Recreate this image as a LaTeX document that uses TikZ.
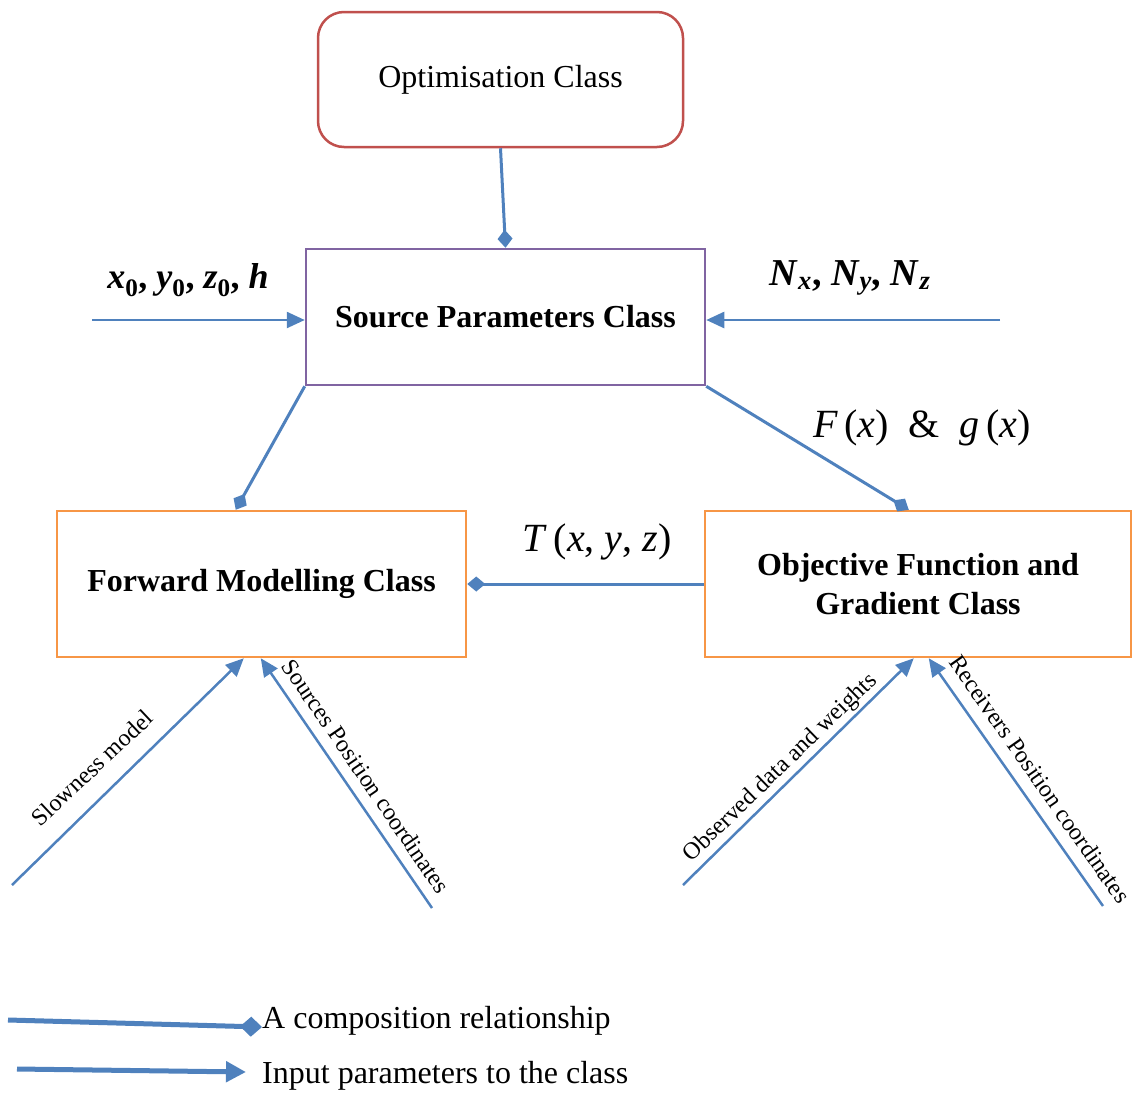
\documentclass[tikz,border=0pt]{standalone}
\usepackage{fontspec}
\setmainfont{Liberation Serif}
\usetikzlibrary{arrows.meta,positioning}

\definecolor{linkblue}{HTML}{4F81BD}
\definecolor{optred}{HTML}{C0504D}
\definecolor{srcpurple}{HTML}{8064A2}
\definecolor{clsorange}{HTML}{F79646}

\newcommand{\vsub}[2]{\textit{#1}\textsubscript{#2}}

\tikzset{
  classbox/.style={draw, line width=2.5pt, align=center,
    font=\fontsize{32}{39}\selectfont\bfseries},
  compose/.style={linkblue, line width=3pt, -{Diamond[length=18pt,width=15pt]}},
  inparam/.style={linkblue, line width=2.5pt, -{Triangle[length=18pt,width=16pt]}},
  lbl/.style={font=\fontsize{24}{28}\selectfont, inner sep=0pt},
  mathlbl/.style={font=\fontsize{36}{42}\selectfont\bfseries, inner sep=0pt},
  keytxt/.style={font=\fontsize{32}{38}\selectfont, inner sep=0pt, anchor=west}
}

\begin{document}
\begin{tikzpicture}[x=1pt,y=-1pt]
\useasboundingbox (0,0) rectangle (1133,1093);

% Klassen
\node[classbox, draw=optred, rounded corners=26pt, minimum width=365pt,
  minimum height=135pt, font=\fontsize{32}{39}\selectfont] (opt) at (500.5,79.5) {Optimisation Class};
\node[classbox, draw=srcpurple, minimum width=399pt, minimum height=136pt] (src) at (505.5,317) {Source Parameters Class};
\node[classbox, draw=clsorange, minimum width=409pt, minimum height=146pt] (fwd) at (261.5,584) {Forward Modelling Class};
\node[classbox, draw=clsorange, minimum width=426pt, minimum height=146pt] (obj) at (918,584) {Objective Function and\\Gradient Class};

% Composicion
\draw[compose] (opt.south) -- (src.north);
\draw[compose] (src.south west) -- ([xshift=180pt]fwd.north west);
\draw[compose] (src.south east) -- ([xshift=205pt]obj.north west);
\draw[compose] (obj.west) -- (fwd.east);

% Parametros de entrada
\coordinate (xin) at (92,320);
\coordinate (nin) at (1000,320);
\draw[inparam] (xin) -- (xin -| src.west);
\draw[inparam] (nin) -- (nin -| src.east);

\coordinate (slow) at (12,885);
\coordinate (spos) at (432,908);
\coordinate (obsd) at (683,885);
\coordinate (rpos) at (1103,906);
\draw[inparam] (slow) -- ([xshift=188pt]fwd.south west);
\draw[inparam] (spos) -- ([xshift=205pt]fwd.south west);
\draw[inparam] (obsd) -- ([xshift=210pt]obj.south west);
\draw[inparam] (rpos) -- ([xshift=225pt]obj.south west);

% Etiquetas
\node[mathlbl] (xlab) at (188,280) {\vsub{x}{0}, \vsub{y}{0}, \vsub{z}{0}, \textit{h}};
\node[mathlbl, font=\fontsize{38}{42}\selectfont\bfseries] (nlab) at (850,278) {\vsub{N}{\textit{x}}, \vsub{N}{\textit{y}}, \vsub{N}{\textit{z}}};
\node[mathlbl, font=\fontsize{40}{44}\selectfont] (fglab) at (922,428) {\textit{F}\,(\textit{x})\ \ \&\ \ \textit{g}\,(\textit{x})};
\node[mathlbl, font=\fontsize{40}{44}\selectfont] (tlab) at (597,542) {\textit{T}\,(\textit{x}, \textit{y}, \textit{z})};

\node[lbl, rotate=43.2] (slowlab) at (92,768) {Slowness model};
\node[lbl, rotate=-55.6] (sposlab) at (366,776) {Sources Position coordinates};
\node[lbl, rotate=44.1] (obslab) at (781,768) {Observed data and weights};
\node[lbl, rotate=-54.9] (rposlab) at (1040,779) {Receivers Position coordinates};

% Leyenda
\node[keytxt] (comptxt) at (262,1021) {A composition relationship};
\node[keytxt] (intxt) at (262,1076) {Input parameters to the class};
\coordinate (key1) at (8,1020);
\coordinate (key2) at (17,1069);
\draw[compose, line width=5pt, -{Diamond[length=22pt,width=20pt]}] (key1) -- ([yshift=-6pt]comptxt.west);
\draw[inparam, line width=5pt, -{Triangle[length=20pt,width=20pt]}] (key2) -- ([xshift=-16pt,yshift=4pt]intxt.west);

\end{tikzpicture}
\end{document}
